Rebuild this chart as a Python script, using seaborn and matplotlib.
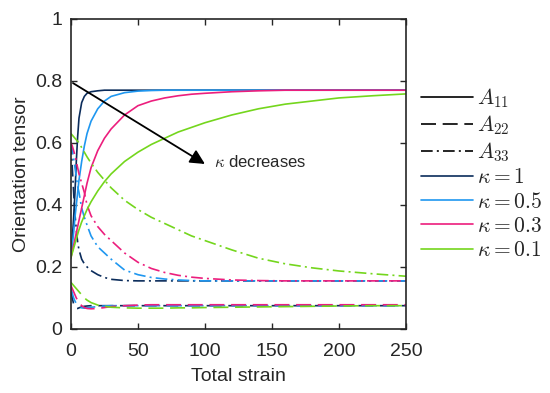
import pandas as pd
import matplotlib
matplotlib.use("Agg")
import matplotlib.pyplot as plt
import seaborn as sns
from matplotlib.lines import Line2D
from matplotlib.ticker import FormatStrFormatter

# strain values shared by all curves
strain = [0, 1, 2, 3, 4, 5, 6, 8, 10, 12, 15, 20, 25, 30, 40, 50, 60, 70, 80, 90,
          100, 120, 140, 160, 180, 200, 225, 250]

kappas = ["1", "0.5", "0.3", "0.1"]
colors = ["#0b2c5b", "#1f97f0", "#ec1e7d", "#74d61d"]

# A11
a11_k1 = [0.23, 0.29, 0.36, 0.44, 0.54, 0.62, 0.68, 0.73, 0.75, 0.76, 0.765, 0.768, 0.77,
          0.77, 0.77, 0.77, 0.77, 0.77, 0.77, 0.77, 0.77, 0.77, 0.77, 0.77, 0.77, 0.77, 0.77, 0.77]
a11_k05 = [0.23, 0.27, 0.31, 0.36, 0.40, 0.44, 0.48, 0.54, 0.59, 0.63, 0.67, 0.71, 0.735,
           0.75, 0.762, 0.767, 0.769, 0.77, 0.77, 0.77, 0.77, 0.77, 0.77, 0.77, 0.77, 0.77, 0.77, 0.77]
a11_k03 = [0.23, 0.25, 0.27, 0.29, 0.31, 0.33, 0.35, 0.39, 0.43, 0.47, 0.52, 0.575, 0.615,
           0.645, 0.69, 0.72, 0.735, 0.745, 0.752, 0.757, 0.76, 0.765, 0.768, 0.77, 0.77, 0.77, 0.77, 0.77]
a11_k01 = [0.23, 0.245, 0.26, 0.275, 0.29, 0.305, 0.32, 0.345, 0.365, 0.385, 0.41, 0.445, 0.475,
           0.5, 0.54, 0.57, 0.595, 0.615, 0.635, 0.65, 0.665, 0.69, 0.71, 0.725, 0.735, 0.745, 0.752, 0.758]

# A22
a22_k1 = [0.13, 0.10, 0.08, 0.07, 0.066, 0.066, 0.068, 0.071, 0.073, 0.074, 0.075, 0.075, 0.075,
          0.075, 0.075, 0.075, 0.075, 0.075, 0.075, 0.075, 0.075, 0.075, 0.075, 0.075, 0.075, 0.075, 0.075, 0.075]
a22_k05 = [0.13, 0.115, 0.10, 0.09, 0.082, 0.076, 0.072, 0.068, 0.067, 0.068, 0.07, 0.072, 0.074,
           0.075, 0.075, 0.075, 0.075, 0.075, 0.075, 0.075, 0.075, 0.075, 0.075, 0.075, 0.075, 0.075, 0.075, 0.075]
a22_k03 = [0.14, 0.13, 0.12, 0.11, 0.10, 0.092, 0.085, 0.075, 0.069, 0.066, 0.065, 0.066, 0.069,
           0.072, 0.075, 0.077, 0.078, 0.078, 0.078, 0.078, 0.078, 0.078, 0.078, 0.078, 0.078, 0.078, 0.078, 0.078]
a22_k01 = [0.15, 0.145, 0.14, 0.135, 0.13, 0.125, 0.12, 0.11, 0.10, 0.093, 0.085, 0.077, 0.073,
           0.07, 0.068, 0.067, 0.067, 0.067, 0.068, 0.068, 0.069, 0.07, 0.071, 0.072, 0.073, 0.074, 0.075, 0.075]

# A33
a33_k1 = [0.60, 0.52, 0.44, 0.37, 0.32, 0.28, 0.255, 0.225, 0.21, 0.20, 0.188, 0.175, 0.166,
          0.16, 0.156, 0.155, 0.155, 0.155, 0.155, 0.155, 0.155, 0.155, 0.155, 0.155, 0.155, 0.155, 0.155, 0.155]
a33_k05 = [0.60, 0.58, 0.55, 0.52, 0.49, 0.46, 0.44, 0.39, 0.36, 0.335, 0.30, 0.265, 0.245,
           0.225, 0.19, 0.175, 0.166, 0.161, 0.158, 0.156, 0.155, 0.155, 0.155, 0.155, 0.155, 0.155, 0.155, 0.155]
a33_k03 = [0.60, 0.59, 0.575, 0.56, 0.54, 0.52, 0.50, 0.47, 0.44, 0.40, 0.365, 0.33, 0.305,
           0.285, 0.245, 0.215, 0.195, 0.182, 0.173, 0.167, 0.163, 0.158, 0.156, 0.155, 0.155, 0.155, 0.155, 0.155]
a33_k01 = [0.63, 0.625, 0.62, 0.615, 0.61, 0.605, 0.60, 0.585, 0.57, 0.555, 0.535, 0.505, 0.48,
           0.455, 0.415, 0.385, 0.36, 0.34, 0.32, 0.30, 0.285, 0.255, 0.228, 0.21, 0.197, 0.187, 0.178, 0.17]

curves = {
    ("A11", "1"): a11_k1, ("A11", "0.5"): a11_k05, ("A11", "0.3"): a11_k03, ("A11", "0.1"): a11_k01,
    ("A22", "1"): a22_k1, ("A22", "0.5"): a22_k05, ("A22", "0.3"): a22_k03, ("A22", "0.1"): a22_k01,
    ("A33", "1"): a33_k1, ("A33", "0.5"): a33_k05, ("A33", "0.3"): a33_k03, ("A33", "0.1"): a33_k01,
}

frames = []
for (comp, k), vals in curves.items():
    frames.append(pd.DataFrame({"strain": strain, "value": vals, "comp": comp, "kappa": k}))
df = pd.concat(frames, ignore_index=True)

sns.set_style("ticks", {"xtick.direction": "in", "ytick.direction": "in"})
plt.rcParams["font.family"] = ["Liberation Sans", "DejaVu Sans"]
plt.rcParams["mathtext.fontset"] = "cm"

dash_styles = {"A11": "", "A22": (9, 4), "A33": (7, 2.5, 1.2, 2.5)}

fig = plt.figure(figsize=(5.5, 3.93), dpi=100)
ax = fig.add_axes([0.129, 0.163, 0.609, 0.789])

sns.lineplot(data=df, x="strain", y="value", hue="kappa", style="comp",
             hue_order=kappas, palette=colors, style_order=["A11", "A22", "A33"],
             dashes=dash_styles, lw=1.2, legend=False, ax=ax, estimator=None, sort=False)

ax.set_xlim(0, 250)
ax.set_ylim(0, 1)
ax.set_xticks([0, 50, 100, 150, 200, 250])
ax.set_yticks([0, 0.2, 0.4, 0.6, 0.8, 1])
ax.yaxis.set_major_formatter(FormatStrFormatter("%g"))
ax.tick_params(top=True, right=True, labelsize=14, length=4, width=1, color="#262626")
ax.tick_params(axis="x", pad=10)
ax.tick_params(axis="y", pad=6)
for s in ax.spines.values():
    s.set_visible(True)
    s.set_linewidth(1.2)
    s.set_color("#262626")
ax.set_xlabel("Total strain", fontsize=14, labelpad=6)
ax.set_ylabel("Orientation tensor", fontsize=14, labelpad=4)

ax.annotate("", xy=(100, 0.532), xytext=(1.5, 0.793),
            arrowprops=dict(arrowstyle="-|>", color="k", lw=1.3, mutation_scale=22,
                            shrinkA=0, shrinkB=0))
ax.text(107, 0.537, r"$\kappa$ decreases", fontsize=12, va="center", ha="left")

handles = [
    Line2D([], [], color="k", lw=1.2, label=r"$A_{11}$"),
    Line2D([], [], color="k", lw=1.2, dashes=dash_styles["A22"], label=r"$A_{22}$"),
    Line2D([], [], color="k", lw=1.2, dashes=dash_styles["A33"], label=r"$A_{33}$"),
]
labels_k = [r"$\kappa = 1$", r"$\kappa = 0.5$", r"$\kappa = 0.3$", r"$\kappa = 0.1$"]
for c, lab in zip(colors, labels_k):
    handles.append(Line2D([], [], color=c, lw=1.2, label=lab))
ax.legend(handles=handles, loc="center left", bbox_to_anchor=(1.02, 0.5), frameon=False,
          fontsize=15.5, handlelength=2.4, handletextpad=0.2, labelspacing=0.15, borderaxespad=0)

fig.savefig("out.png", dpi=100)
